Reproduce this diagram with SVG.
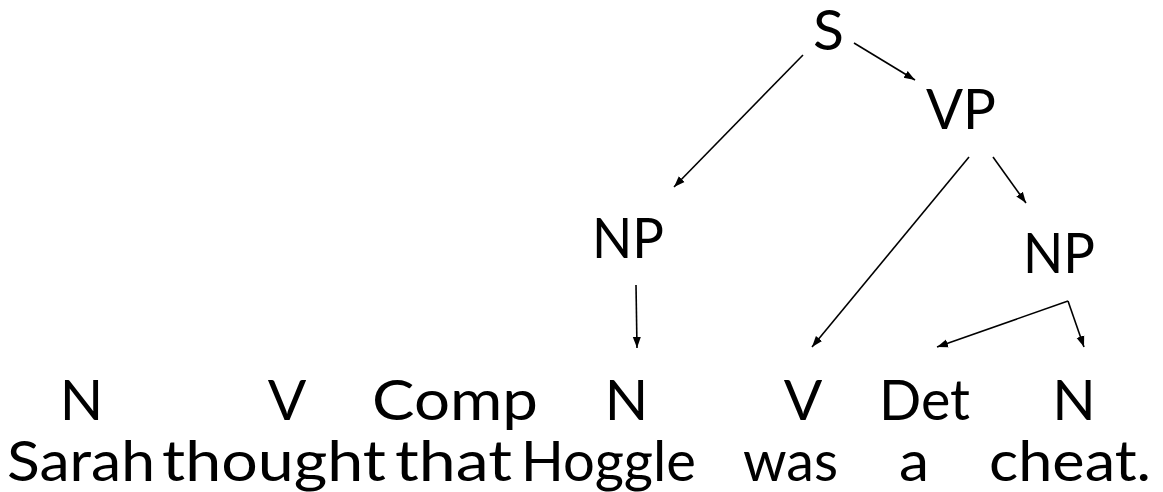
<svg xmlns="http://www.w3.org/2000/svg" width="1163" height="492" viewBox="0 0 1163 492">
<defs>
<marker id="ah" markerUnits="userSpaceOnUse" markerWidth="12" markerHeight="10" viewBox="0 0 12 10" refX="11" refY="5" orient="auto">
<path d="M0,1 L11,5 L0,9 Z" fill="#000"/>
</marker>
<style>
text{font-family:Lato,"Open Sans","Liberation Sans",sans-serif;fill:#000;font-size:57px}
.c{text-anchor:middle}
.e{stroke:#000;stroke-width:1.6;fill:none;marker-end:url(#ah)}
</style>
</defs>
<rect width="1163" height="492" fill="#fff"/>
<g id="edges">
<line class="e" x1="803" y1="55" x2="674" y2="187"/>
<line class="e" x1="854" y1="43" x2="915" y2="80"/>
<line class="e" x1="969" y1="157" x2="812" y2="347"/>
<line class="e" x1="993" y1="157" x2="1026" y2="203"/>
<line class="e" x1="636" y1="285" x2="637" y2="348"/>
<line class="e" x1="1068" y1="301" x2="937" y2="347"/>
<line class="e" x1="1068" y1="301" x2="1084" y2="347"/>
</g>
<g id="node-S"><text class="c" x="828.5" y="50">S</text></g>
<g id="node-VP"><text x="926" y="129" textLength="70" lengthAdjust="spacingAndGlyphs">VP</text></g>
<g id="node-NP1"><text x="592" y="258" textLength="72" lengthAdjust="spacingAndGlyphs">NP</text></g>
<g id="node-NP2"><text x="1023" y="273" textLength="72" lengthAdjust="spacingAndGlyphs">NP</text></g>
<g id="tags">
<text class="c" x="81.5" y="420">N</text>
<text class="c" x="287" y="420">V</text>
<text x="372" y="420" textLength="166" lengthAdjust="spacingAndGlyphs">Comp</text>
<text class="c" x="626.5" y="420">N</text>
<text class="c" x="803" y="420">V</text>
<text x="879" y="420" textLength="91" lengthAdjust="spacingAndGlyphs">Det</text>
<text class="c" x="1074" y="420">N</text>
</g>
<g id="words">
<text x="7" y="481" textLength="148" lengthAdjust="spacingAndGlyphs">Sarah</text>
<text x="162" y="481" textLength="224" lengthAdjust="spacingAndGlyphs">thought</text>
<text x="395" y="481" textLength="117" lengthAdjust="spacingAndGlyphs">that</text>
<text x="521" y="481" textLength="175" lengthAdjust="spacingAndGlyphs">Hoggle</text>
<text x="743" y="481" textLength="95" lengthAdjust="spacingAndGlyphs">was</text>
<text x="899" y="481" textLength="30" lengthAdjust="spacingAndGlyphs">a</text>
<text x="989" y="481" textLength="162" lengthAdjust="spacingAndGlyphs">cheat.</text>
</g>
</svg>
